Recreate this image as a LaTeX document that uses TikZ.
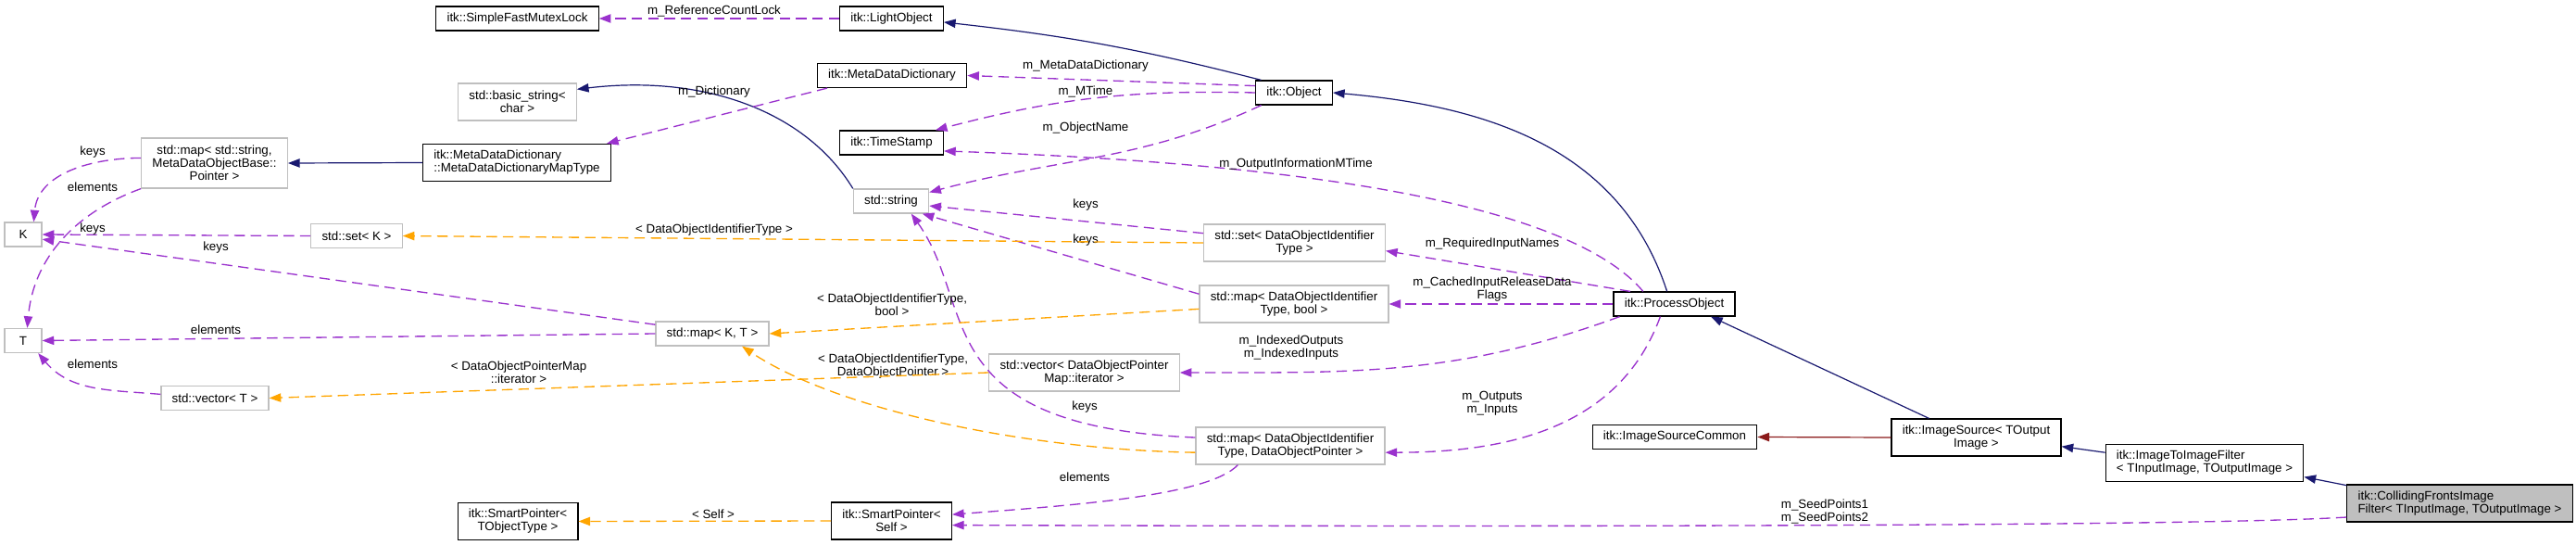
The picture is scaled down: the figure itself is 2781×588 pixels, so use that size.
\documentclass[tikz,border=0pt]{standalone}
\usepackage{fontspec}
\setmainfont{Liberation Sans}
\usetikzlibrary{arrows.meta}
\definecolor{inhblue}{HTML}{191970}
\definecolor{privred}{HTML}{8B1A1A}
\definecolor{usepurple}{HTML}{9A32CD}
\definecolor{tmplorange}{HTML}{FFA500}
\definecolor{boxgray}{HTML}{BFBFBF}
\begin{document}
\begin{tikzpicture}[x=0.75pt, y=0.75pt,
        every node/.style = {font=\fontsize{10pt}{10.5pt}\selectfont, align=center,
            inner xsep=8.8pt, inner ysep=2pt, minimum width=30pt, minimum height=19.5pt},
        cls/.style = {draw=black, line width=0.9pt},
        ext/.style = {draw=boxgray, line width=0.9pt},
        two/.style = {minimum height=30pt},
        three/.style = {minimum height=40.5pt},
        lbl/.style = {draw=none, minimum width=0pt, minimum height=0pt, inner sep=1pt},
        inh/.style = {draw=inhblue, line width=0.9pt, -{Triangle[length=9.5pt, width=7pt]}},
        priv/.style = {draw=privred, line width=0.9pt, -{Triangle[length=9.5pt, width=7pt]}},
        uses/.style = {draw=usepurple, line width=1pt, dash pattern=on 8.5pt off 4.8pt,
            -{Triangle[length=9.5pt, width=7pt]}},
        tmpl/.style = {draw=tmplorange, line width=1pt, dash pattern=on 8.5pt off 4.8pt,
            -{Triangle[length=9.5pt, width=7pt]}}
        ]
        \useasboundingbox (0,0) rectangle (2781,-588);
        % classes
        \node[cls] (mutex) at (558.5,-20) {itk::SimpleFastMutexLock};
        \node[cls] (light) at (962.5,-20) {itk::LightObject};
        \node[cls] (mdd) at (963,-81.5) {itk::MetaDataDictionary};
        \node[cls] (stamp) at (962.5,-154) {itk::TimeStamp};
        \node[cls] (object) at (1397,-100) {itk::Object};
        \node[ext, two] (bstring) at (558.5,-110) {std::basic\_string<\\char >};
        \node[ext, three] (mapstr) at (231.5,-176) {std::map< std::string,\\MetaDataObjectBase::\\Pointer >};
        \node[cls, two, align=left] (maptype) at (558,-175.5) {itk::MetaDataDictionary\\::MetaDataDictionaryMapType};
        \node[ext] (K) at (25,-253) {K};
        \node[ext] (setK) at (385,-254.5) {std::set< K >};
        \node[ext] (string) at (962,-217) {std::string};
        \node[ext] (mapKT) at (769,-360) {std::map< K, T >};
        \node[ext] (T) at (25,-367.5) {T};
        \node[ext] (vecT) at (232,-429.5) {std::vector< T >};
        \node[cls, two] (spobj) at (559,-562.5) {itk::SmartPointer<\\TObjectType >};
        \node[ext, two] (setid) at (1397.5,-262) {std::set< DataObjectIdentifier\\Type >};
        \node[ext, two] (mapbool) at (1397,-328) {std::map< DataObjectIdentifier\\Type, bool >};
        \node[ext, two] (vecit) at (1170.5,-402) {std::vector< DataObjectPointer\\Map::iterator >};
        \node[ext, two] (mapptr) at (1393,-481) {std::map< DataObjectIdentifier\\Type, DataObjectPointer >};
        \node[cls, two] (spself) at (962.5,-562) {itk::SmartPointer<\\Self >};
        \node[cls] (process) at (1807.5,-328) {itk::ProcessObject};
        \node[cls] (common) at (1808,-471.5) {itk::ImageSourceCommon};
        \node[cls, two] (source) at (2133.5,-472) {itk::ImageSource< TOutput\\Image >};
        \node[cls, two, align=left] (filter) at (2380,-499.5) {itk::ImageToImageFilter\\< TInputImage, TOutputImage >};
        \node[cls, two, align=left, fill=boxgray] (fronts) at (2655.5,-543) {itk::CollidingFrontsImage\\Filter< TInputImage, TOutputImage >};
        % inheritance
        \draw[inh] (object.159) to[bend right=4] (light.-4);
        \draw[inh] (process.120) to[out=108, in=-5] (object.east);
        \draw[inh] (string.north west) .. controls (870,-120) and (760,-80) .. (bstring.12);
        \draw[inh] (maptype.west) -- (mapstr.east);
        \draw[inh] (source.158) -- (process.-19);
        \draw[inh] (filter.174) -- (source.-6);
        \draw[inh] (fronts.171) -- (filter.-8);
        \draw[priv] (source.west) -- (common.east);
        % members
        \draw[uses] (light.west) -- (mutex.east) node[lbl] at (771,-12) {m\_ReferenceCountLock};
        \draw[uses] (object.170) -- (mdd.east) node[lbl] at (1172,-71) {m\_MetaDataDictionary};
        \draw[uses] (object.west) to[bend right=8] (stamp.16) node[lbl] at (1172,-99) {m\_MTime};
        \draw[uses] (object.201) to[out=205, in=15] (string.13) node[lbl] at (1172,-138) {m\_ObjectName};
        \draw[uses] (process.158) .. controls (1690,-215) and (1380,-175) .. (stamp.-9) node[lbl] at (1399,-177) {m\_OutputInformationMTime};
        \draw[uses] (mdd.191) -- (maptype.12) node[lbl] at (771,-99) {m\_Dictionary};
        \draw[uses] (mapstr.176) to[out=180, in=85] (K.50) node[lbl] at (100,-164) {keys};
        \draw[uses] (mapstr.south west) to[out=200, in=85] (T.72) node[lbl] at (100,-202) {elements};
        \draw[uses] (setK.west) -- (K.east) node[lbl] at (100,-247) {keys};
        \draw[uses] (mapKT.171) -- (K.-14) node[lbl] at (233,-267) {keys};
        \draw[uses] (mapKT.west) -- (T.east) node[lbl] at (233,-356) {elements};
        \draw[uses] (vecT.176) to[out=175, in=-50] (T.-40) node[lbl] at (100,-393) {elements};
        \draw[uses] (setid.174) -- (string.-7) node[lbl] at (1172,-221) {keys};
        \draw[uses] (mapbool.174) -- (string.-22) node[lbl] at (1172,-259) {keys};
        \draw[uses] (mapptr.175) .. controls (1000,-460) and (1055,-330) .. (string.-32) node[lbl] at (1171,-439) {keys};
        \draw[uses] (process.164) -- (setid.-5) node[lbl] at (1611,-263) {m\_RequiredInputNames};
        \draw[uses] (process.west) -- (mapbool.east) node[lbl] at (1611,-312) {m\_CachedInputReleaseData\\Flags};
        \draw[uses] (process.193) to[out=200, in=0] (vecit.east) node[lbl] at (1394,-375) {m\_IndexedOutputs\\m\_IndexedInputs};
        \draw[uses] (process.222) to[out=250, in=0] (mapptr.-4) node[lbl] at (1611,-435) {m\_Outputs\\m\_Inputs};
        \draw[uses] (mapptr.200) .. controls (1305,-535) and (1160,-545) .. (spself.6) node[lbl] at (1171,-515) {elements};
        \draw[uses] (fronts.187) .. controls (2360,-569) and (1500,-568) .. (spself.-4) node[lbl] at (1970,-552) {m\_SeedPoints1\\m\_SeedPoints2};
        % template instances
        \draw[tmpl] (setid.west) -- (setK.east) node[lbl] at (771,-248) {< DataObjectIdentifierType >};
        \draw[tmpl] (mapbool.183) -- (mapKT.east) node[lbl] at (963,-329) {< DataObjectIdentifierType,\\bool >};
        \draw[tmpl] (mapptr.184) .. controls (1100,-485) and (900,-440) .. (mapKT.-23) node[lbl] at (964,-395) {< DataObjectIdentifierType,\\DataObjectPointer >};
        \draw[tmpl] (vecit.west) -- (vecT.east) node[lbl] at (560,-402) {< DataObjectPointerMap\\::iterator >};
        \draw[tmpl] (spself.west) -- (spobj.east) node[lbl] at (770,-555) {< Self >};
    \end{tikzpicture}
\end{document}
